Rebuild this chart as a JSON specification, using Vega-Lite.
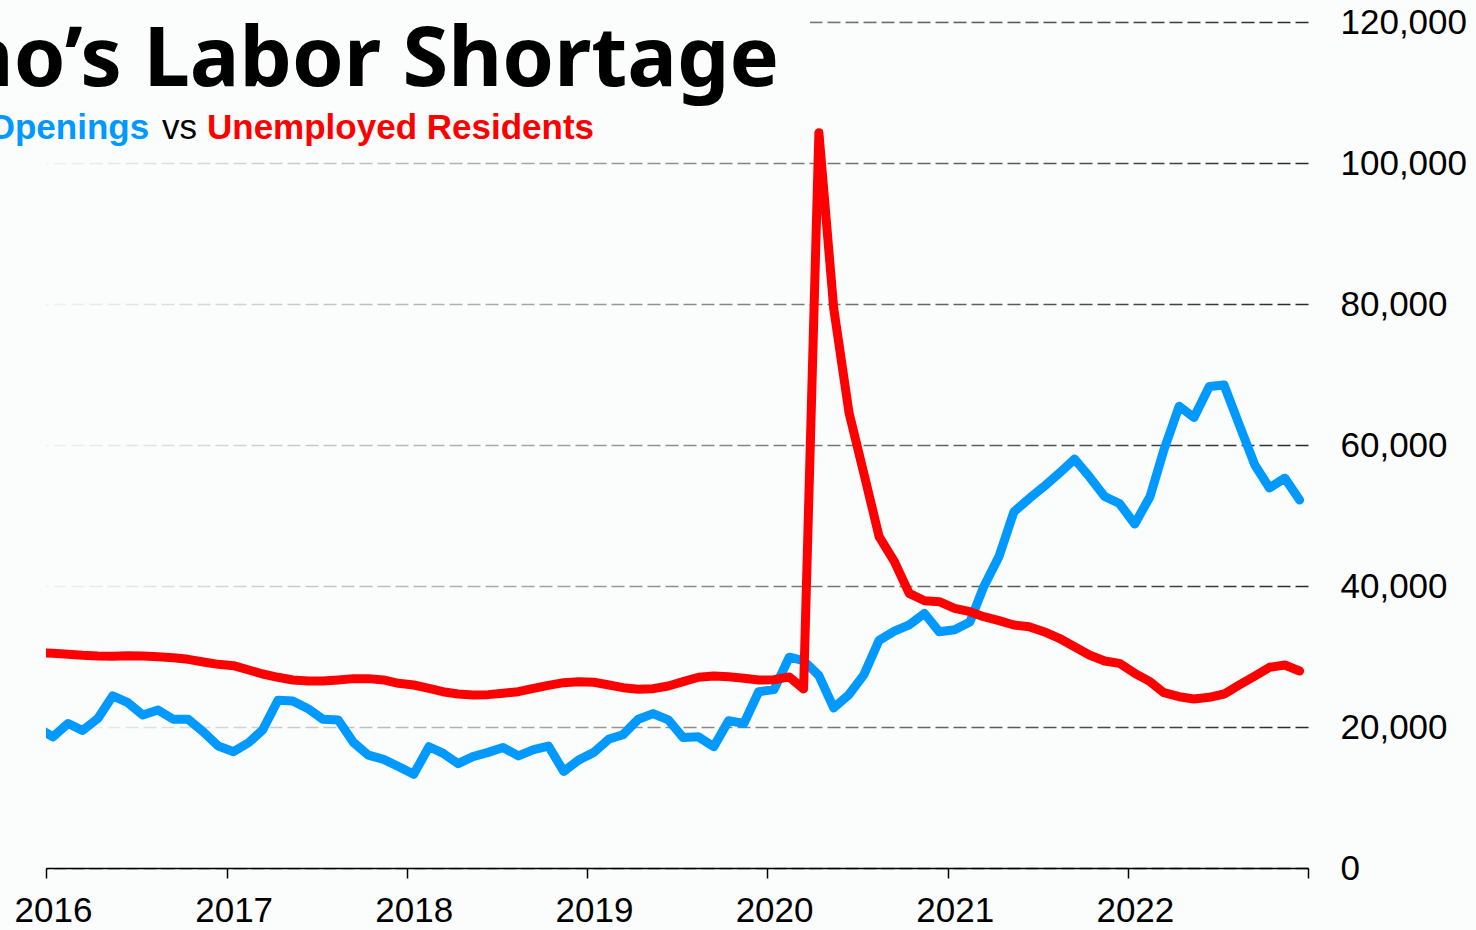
{
  "$schema": "https://vega.github.io/schema/vega-lite/v6.json",
  "width": 1262,
  "height": 846,
  "autosize": "none",
  "padding": {"left": 46, "top": 22, "right": 168, "bottom": 62},
  "background": "#fbfcfc",
  "config": {"view": {"stroke": null}, "font": "Liberation Sans"},
  "datasets": {
    "jobs": [
      {"date": "2015-12-15", "series": "Job Openings", "value": 19900},
      {"date": "2016-01-15", "series": "Job Openings", "value": 18600},
      {"date": "2016-02-15", "series": "Job Openings", "value": 20500},
      {"date": "2016-03-15", "series": "Job Openings", "value": 19500},
      {"date": "2016-04-15", "series": "Job Openings", "value": 21200},
      {"date": "2016-05-15", "series": "Job Openings", "value": 24400},
      {"date": "2016-06-15", "series": "Job Openings", "value": 23450},
      {"date": "2016-07-15", "series": "Job Openings", "value": 21700},
      {"date": "2016-08-15", "series": "Job Openings", "value": 22400},
      {"date": "2016-09-15", "series": "Job Openings", "value": 21100},
      {"date": "2016-10-15", "series": "Job Openings", "value": 21100},
      {"date": "2016-11-15", "series": "Job Openings", "value": 19300},
      {"date": "2016-12-15", "series": "Job Openings", "value": 17300},
      {"date": "2017-01-15", "series": "Job Openings", "value": 16500},
      {"date": "2017-02-15", "series": "Job Openings", "value": 17800},
      {"date": "2017-03-15", "series": "Job Openings", "value": 19600},
      {"date": "2017-04-15", "series": "Job Openings", "value": 23800},
      {"date": "2017-05-15", "series": "Job Openings", "value": 23700},
      {"date": "2017-06-15", "series": "Job Openings", "value": 22600},
      {"date": "2017-07-15", "series": "Job Openings", "value": 21100},
      {"date": "2017-08-15", "series": "Job Openings", "value": 21000},
      {"date": "2017-09-15", "series": "Job Openings", "value": 17800},
      {"date": "2017-10-15", "series": "Job Openings", "value": 16000},
      {"date": "2017-11-15", "series": "Job Openings", "value": 15400},
      {"date": "2017-12-15", "series": "Job Openings", "value": 14400},
      {"date": "2018-01-15", "series": "Job Openings", "value": 13300},
      {"date": "2018-02-15", "series": "Job Openings", "value": 17200},
      {"date": "2018-03-15", "series": "Job Openings", "value": 16300},
      {"date": "2018-04-15", "series": "Job Openings", "value": 14800},
      {"date": "2018-05-15", "series": "Job Openings", "value": 15800},
      {"date": "2018-06-15", "series": "Job Openings", "value": 16400},
      {"date": "2018-07-15", "series": "Job Openings", "value": 17100},
      {"date": "2018-08-15", "series": "Job Openings", "value": 15900},
      {"date": "2018-09-15", "series": "Job Openings", "value": 16800},
      {"date": "2018-10-15", "series": "Job Openings", "value": 17300},
      {"date": "2018-11-15", "series": "Job Openings", "value": 13700},
      {"date": "2018-12-15", "series": "Job Openings", "value": 15300},
      {"date": "2019-01-15", "series": "Job Openings", "value": 16400},
      {"date": "2019-02-15", "series": "Job Openings", "value": 18300},
      {"date": "2019-03-15", "series": "Job Openings", "value": 18900},
      {"date": "2019-04-15", "series": "Job Openings", "value": 21100},
      {"date": "2019-05-15", "series": "Job Openings", "value": 21900},
      {"date": "2019-06-15", "series": "Job Openings", "value": 21000},
      {"date": "2019-07-15", "series": "Job Openings", "value": 18500},
      {"date": "2019-08-15", "series": "Job Openings", "value": 18600},
      {"date": "2019-09-15", "series": "Job Openings", "value": 17200},
      {"date": "2019-10-15", "series": "Job Openings", "value": 20900},
      {"date": "2019-11-15", "series": "Job Openings", "value": 20500},
      {"date": "2019-12-15", "series": "Job Openings", "value": 25000},
      {"date": "2020-01-15", "series": "Job Openings", "value": 25300},
      {"date": "2020-02-15", "series": "Job Openings", "value": 29900},
      {"date": "2020-03-15", "series": "Job Openings", "value": 29400},
      {"date": "2020-04-15", "series": "Job Openings", "value": 27300},
      {"date": "2020-05-15", "series": "Job Openings", "value": 22700},
      {"date": "2020-06-15", "series": "Job Openings", "value": 24600},
      {"date": "2020-07-15", "series": "Job Openings", "value": 27400},
      {"date": "2020-08-15", "series": "Job Openings", "value": 32300},
      {"date": "2020-09-15", "series": "Job Openings", "value": 33600},
      {"date": "2020-10-15", "series": "Job Openings", "value": 34500},
      {"date": "2020-11-15", "series": "Job Openings", "value": 36100},
      {"date": "2020-12-15", "series": "Job Openings", "value": 33500},
      {"date": "2021-01-15", "series": "Job Openings", "value": 33800},
      {"date": "2021-02-15", "series": "Job Openings", "value": 34900},
      {"date": "2021-03-15", "series": "Job Openings", "value": 39900},
      {"date": "2021-04-15", "series": "Job Openings", "value": 44200},
      {"date": "2021-05-15", "series": "Job Openings", "value": 50500},
      {"date": "2021-06-15", "series": "Job Openings", "value": 52400},
      {"date": "2021-07-15", "series": "Job Openings", "value": 54100},
      {"date": "2021-08-15", "series": "Job Openings", "value": 56000},
      {"date": "2021-09-15", "series": "Job Openings", "value": 58000},
      {"date": "2021-10-15", "series": "Job Openings", "value": 55500},
      {"date": "2021-11-15", "series": "Job Openings", "value": 52700},
      {"date": "2021-12-15", "series": "Job Openings", "value": 51700},
      {"date": "2022-01-15", "series": "Job Openings", "value": 48800},
      {"date": "2022-02-15", "series": "Job Openings", "value": 52700},
      {"date": "2022-03-15", "series": "Job Openings", "value": 59300},
      {"date": "2022-04-15", "series": "Job Openings", "value": 65500},
      {"date": "2022-05-15", "series": "Job Openings", "value": 63900},
      {"date": "2022-06-15", "series": "Job Openings", "value": 68300},
      {"date": "2022-07-15", "series": "Job Openings", "value": 68500},
      {"date": "2022-08-15", "series": "Job Openings", "value": 62800},
      {"date": "2022-09-15", "series": "Job Openings", "value": 57200},
      {"date": "2022-10-15", "series": "Job Openings", "value": 53900},
      {"date": "2022-11-15", "series": "Job Openings", "value": 55300},
      {"date": "2022-12-15", "series": "Job Openings", "value": 52200}
    ],
    "unemp": [
      {"date": "2015-12-15", "series": "Unemployed Residents", "value": 30550},
      {"date": "2016-01-15", "series": "Unemployed Residents", "value": 30450},
      {"date": "2016-02-15", "series": "Unemployed Residents", "value": 30310},
      {"date": "2016-03-15", "series": "Unemployed Residents", "value": 30170},
      {"date": "2016-04-15", "series": "Unemployed Residents", "value": 30070},
      {"date": "2016-05-15", "series": "Unemployed Residents", "value": 30050},
      {"date": "2016-06-15", "series": "Unemployed Residents", "value": 30100},
      {"date": "2016-07-15", "series": "Unemployed Residents", "value": 30080},
      {"date": "2016-08-15", "series": "Unemployed Residents", "value": 29970},
      {"date": "2016-09-15", "series": "Unemployed Residents", "value": 29830},
      {"date": "2016-10-15", "series": "Unemployed Residents", "value": 29600},
      {"date": "2016-11-15", "series": "Unemployed Residents", "value": 29220},
      {"date": "2016-12-15", "series": "Unemployed Residents", "value": 28890},
      {"date": "2017-01-15", "series": "Unemployed Residents", "value": 28700},
      {"date": "2017-02-15", "series": "Unemployed Residents", "value": 28080},
      {"date": "2017-03-15", "series": "Unemployed Residents", "value": 27520},
      {"date": "2017-04-15", "series": "Unemployed Residents", "value": 27050},
      {"date": "2017-05-15", "series": "Unemployed Residents", "value": 26670},
      {"date": "2017-06-15", "series": "Unemployed Residents", "value": 26520},
      {"date": "2017-07-15", "series": "Unemployed Residents", "value": 26520},
      {"date": "2017-08-15", "series": "Unemployed Residents", "value": 26670},
      {"date": "2017-09-15", "series": "Unemployed Residents", "value": 26860},
      {"date": "2017-10-15", "series": "Unemployed Residents", "value": 26860},
      {"date": "2017-11-15", "series": "Unemployed Residents", "value": 26670},
      {"date": "2017-12-15", "series": "Unemployed Residents", "value": 26200},
      {"date": "2018-01-15", "series": "Unemployed Residents", "value": 25960},
      {"date": "2018-02-15", "series": "Unemployed Residents", "value": 25490},
      {"date": "2018-03-15", "series": "Unemployed Residents", "value": 25010},
      {"date": "2018-04-15", "series": "Unemployed Residents", "value": 24680},
      {"date": "2018-05-15", "series": "Unemployed Residents", "value": 24540},
      {"date": "2018-06-15", "series": "Unemployed Residents", "value": 24590},
      {"date": "2018-07-15", "series": "Unemployed Residents", "value": 24780},
      {"date": "2018-08-15", "series": "Unemployed Residents", "value": 25010},
      {"date": "2018-09-15", "series": "Unemployed Residents", "value": 25490},
      {"date": "2018-10-15", "series": "Unemployed Residents", "value": 25910},
      {"date": "2018-11-15", "series": "Unemployed Residents", "value": 26290},
      {"date": "2018-12-15", "series": "Unemployed Residents", "value": 26430},
      {"date": "2019-01-15", "series": "Unemployed Residents", "value": 26340},
      {"date": "2019-02-15", "series": "Unemployed Residents", "value": 25960},
      {"date": "2019-03-15", "series": "Unemployed Residents", "value": 25580},
      {"date": "2019-04-15", "series": "Unemployed Residents", "value": 25350},
      {"date": "2019-05-15", "series": "Unemployed Residents", "value": 25440},
      {"date": "2019-06-15", "series": "Unemployed Residents", "value": 25820},
      {"date": "2019-07-15", "series": "Unemployed Residents", "value": 26430},
      {"date": "2019-08-15", "series": "Unemployed Residents", "value": 27050},
      {"date": "2019-09-15", "series": "Unemployed Residents", "value": 27230},
      {"date": "2019-10-15", "series": "Unemployed Residents", "value": 27140},
      {"date": "2019-11-15", "series": "Unemployed Residents", "value": 26910},
      {"date": "2019-12-15", "series": "Unemployed Residents", "value": 26670},
      {"date": "2020-01-15", "series": "Unemployed Residents", "value": 26700},
      {"date": "2020-02-15", "series": "Unemployed Residents", "value": 27100},
      {"date": "2020-03-15", "series": "Unemployed Residents", "value": 25400},
      {"date": "2020-04-15", "series": "Unemployed Residents", "value": 104300},
      {"date": "2020-05-15", "series": "Unemployed Residents", "value": 79400},
      {"date": "2020-06-15", "series": "Unemployed Residents", "value": 64600},
      {"date": "2020-07-15", "series": "Unemployed Residents", "value": 56000},
      {"date": "2020-08-15", "series": "Unemployed Residents", "value": 47000},
      {"date": "2020-09-15", "series": "Unemployed Residents", "value": 43450},
      {"date": "2020-10-15", "series": "Unemployed Residents", "value": 38960},
      {"date": "2020-11-15", "series": "Unemployed Residents", "value": 37910},
      {"date": "2020-12-15", "series": "Unemployed Residents", "value": 37770},
      {"date": "2021-01-15", "series": "Unemployed Residents", "value": 36830},
      {"date": "2021-02-15", "series": "Unemployed Residents", "value": 36360},
      {"date": "2021-03-15", "series": "Unemployed Residents", "value": 35650},
      {"date": "2021-04-15", "series": "Unemployed Residents", "value": 35080},
      {"date": "2021-05-15", "series": "Unemployed Residents", "value": 34470},
      {"date": "2021-06-15", "series": "Unemployed Residents", "value": 34230},
      {"date": "2021-07-15", "series": "Unemployed Residents", "value": 33520},
      {"date": "2021-08-15", "series": "Unemployed Residents", "value": 32580},
      {"date": "2021-09-15", "series": "Unemployed Residents", "value": 31390},
      {"date": "2021-10-15", "series": "Unemployed Residents", "value": 30210},
      {"date": "2021-11-15", "series": "Unemployed Residents", "value": 29360},
      {"date": "2021-12-15", "series": "Unemployed Residents", "value": 29030},
      {"date": "2022-01-15", "series": "Unemployed Residents", "value": 27610},
      {"date": "2022-02-15", "series": "Unemployed Residents", "value": 26430},
      {"date": "2022-03-15", "series": "Unemployed Residents", "value": 24870},
      {"date": "2022-04-15", "series": "Unemployed Residents", "value": 24300},
      {"date": "2022-05-15", "series": "Unemployed Residents", "value": 23970},
      {"date": "2022-06-15", "series": "Unemployed Residents", "value": 24210},
      {"date": "2022-07-15", "series": "Unemployed Residents", "value": 24680},
      {"date": "2022-08-15", "series": "Unemployed Residents", "value": 25960},
      {"date": "2022-09-15", "series": "Unemployed Residents", "value": 27230},
      {"date": "2022-10-15", "series": "Unemployed Residents", "value": 28470},
      {"date": "2022-11-15", "series": "Unemployed Residents", "value": 28790},
      {"date": "2022-12-15", "series": "Unemployed Residents", "value": 27940}
    ]
  },
  "layer": [
    {
      "data": {"values": [{}]},
      "mark": {
        "type": "rect",
        "fill": {
          "gradient": "linear", "x1": 0, "y1": 0, "x2": 1, "y2": 0,
          "stops": [
            {"offset": 0, "color": "rgba(251,252,252,0.95)"},
            {"offset": 1, "color": "rgba(251,252,252,0)"}
          ]
        }
      },
      "encoding": {
        "x": {
          "datum": {"year": 2016, "month": 1, "date": 1, "utc": true}, "type": "temporal", "title": null,
          "scale": {"type": "utc", "domain": [{"year": 2016, "month": 1, "date": 1, "utc": true}, {"year": 2023, "month": 1, "date": 1, "utc": true}]},
          "axis": {
            "title": null,
            "values": [
              {"year": 2016, "month": 1, "date": 1, "utc": true},
              {"year": 2017, "month": 1, "date": 1, "utc": true},
              {"year": 2018, "month": 1, "date": 1, "utc": true},
              {"year": 2019, "month": 1, "date": 1, "utc": true},
              {"year": 2020, "month": 1, "date": 1, "utc": true},
              {"year": 2021, "month": 1, "date": 1, "utc": true},
              {"year": 2022, "month": 1, "date": 1, "utc": true},
              {"year": 2023, "month": 1, "date": 1, "utc": true}
            ],
            "labelExpr": "utcyear(datum.value) >= 2023 ? '' : utcFormat(datum.value, '%Y')",
            "grid": false, "zindex": 1,
            "domainColor": "#000000", "domainWidth": 1.5,
            "tickColor": "#000000", "tickWidth": 1.5, "tickSize": 10,
            "labelFontSize": 35, "labelColor": "#000000", "labelPadding": 15, "labelOffset": 7,
            "labelOverlap": false, "labelFlush": false, "labelBound": false
          }
        },
        "x2": {"datum": {"year": 2023, "month": 1, "date": 1, "utc": true}},
        "y": {
          "datum": 0, "type": "quantitative", "title": null,
          "scale": {"domain": [0, 120000], "nice": false, "zero": true},
          "axis": {
            "title": null,
            "orient": "right", "values": [0, 20000, 40000, 60000, 80000, 100000, 120000],
            "format": ",d", "ticks": false, "domain": false,
            "grid": true, "gridColor": "#2a2a2a", "gridDash": [13, 5], "gridWidth": 1.5,
            "labelFontSize": 35, "labelColor": "#000000", "labelPadding": 32,
            "labelAlign": "left", "labelBaseline": "middle", "labelOverlap": false, "labelBound": false
          }
        },
        "y2": {"datum": 120000}
      }
    },
    {
      "data": {"values": [{}]},
      "mark": {"type": "rect", "fill": "#fbfcfc"},
      "encoding": {
        "x": {"datum": {"year": 2015, "month": 12, "date": 1, "utc": true}, "type": "temporal", "title": null},
        "x2": {"datum": {"year": 2020, "month": 3, "date": 28, "utc": true}},
        "y": {"datum": 108000, "type": "quantitative", "title": null},
        "y2": {"datum": 122000}
      }
    },
    {
      "data": {"name": "jobs"},
      "mark": {"type": "line", "strokeWidth": 9, "strokeCap": "round", "strokeJoin": "round", "clip": true, "color": "#0099ff"},
      "encoding": {
        "x": {"field": "date", "type": "temporal", "title": null},
        "y": {"field": "value", "type": "quantitative", "title": null}
      }
    },
    {
      "data": {"name": "unemp"},
      "mark": {"type": "line", "strokeWidth": 9, "strokeCap": "round", "strokeJoin": "round", "clip": true, "color": "#ff0000"},
      "encoding": {
        "x": {"field": "date", "type": "temporal", "title": null},
        "y": {"field": "value", "type": "quantitative", "title": null}
      }
    },
    {
      "data": {"values": [{}]},
      "mark": {"type": "text", "text": "Idaho’s Labor Shortage", "font": "Noto Sans", "fontWeight": "bold", "fontSize": 83, "align": "right", "baseline": "alphabetic", "color": "#000000"},
      "encoding": {
        "x": {"datum": {"year": 2020, "month": 1, "date": 25, "hours": 5, "utc": true}, "type": "temporal", "title": null},
        "y": {"datum": 110900, "type": "quantitative", "title": null}
      }
    },
    {
      "data": {"values": [{}]},
      "mark": {"type": "text", "text": "Job Openings", "font": "Liberation Sans", "fontWeight": "bold", "fontSize": 35, "align": "right", "baseline": "alphabetic", "color": "#0099ff"},
      "encoding": {
        "x": {"datum": {"year": 2016, "month": 7, "date": 28, "utc": true}, "type": "temporal", "title": null},
        "y": {"datum": 103360, "type": "quantitative", "title": null}
      }
    },
    {
      "data": {"values": [{}]},
      "mark": {"type": "text", "text": "vs", "font": "Liberation Sans", "fontWeight": "normal", "fontSize": 35, "align": "left", "baseline": "alphabetic", "color": "#000000"},
      "encoding": {
        "x": {"datum": {"year": 2016, "month": 8, "date": 23, "utc": true}, "type": "temporal", "title": null},
        "y": {"datum": 103360, "type": "quantitative", "title": null}
      }
    },
    {
      "data": {"values": [{}]},
      "mark": {"type": "text", "text": "Unemployed Residents", "font": "Liberation Sans", "fontWeight": "bold", "fontSize": 35, "align": "left", "baseline": "alphabetic", "color": "#ff0000"},
      "encoding": {
        "x": {"datum": {"year": 2016, "month": 11, "date": 22, "hours": 5, "utc": true}, "type": "temporal", "title": null},
        "y": {"datum": 103360, "type": "quantitative", "title": null}
      }
    }
  ]
}
